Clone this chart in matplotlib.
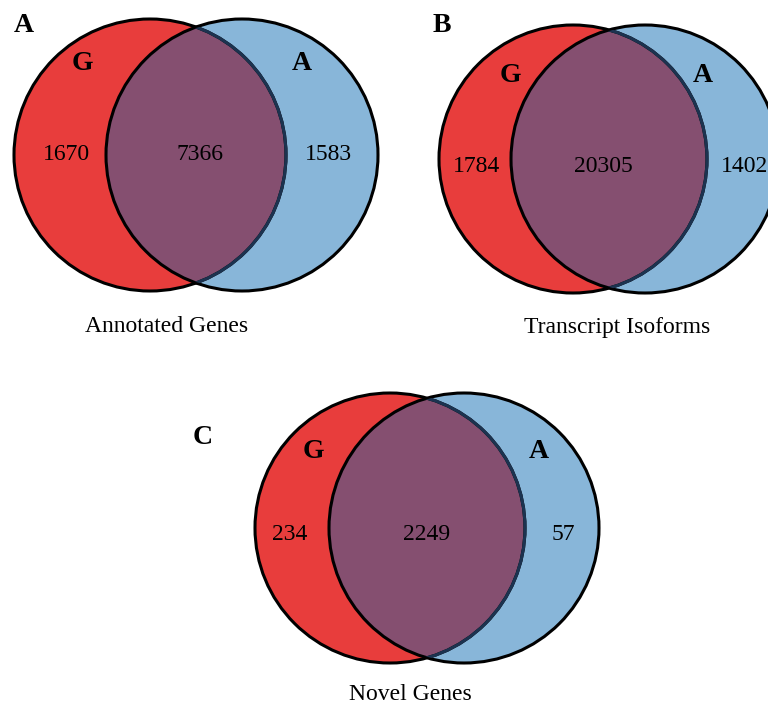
#!/usr/bin/env python
import matplotlib
matplotlib.use('Agg')
import matplotlib.pyplot as plt
from matplotlib.patches import Circle

plt.rcParams['font.family'] = ['Liberation Serif', 'DejaVu Serif']

# data
panels = ['A', 'B', 'C']
titles = ['Annotated Genes', 'Transcript Isoforms', 'Novel Genes']
set_names = ['G', 'A']
only_g = [1670, 1784, 234]
shared = [7366, 20305, 2249]
only_a = [1583, 1402, 57]

# layout (pixel coords): red centre, blue centre, radius
geom = [
    ((150, 155), (242, 155), 136),
    ((573, 159), (645, 159), 134),
    ((390, 528), (464, 528), 135),
]
count_x = [(66, 200, 328), (477, 603, 745), (290, 427, 563)]
count_y = [155, 167, 535]
name_pos = [((82, 64), (302, 64)), ((510, 75), (703, 75)), ((313, 452), (539, 452))]
label_pos = [(24, 25), (442, 25), (203, 437)]
title_pos = [(167, 327), (617, 327), (410, 695)]

RED = '#e83d3c'
BLUE = '#88b6d9'
MIX = '#854f70'

fig = plt.figure(figsize=(7.68, 7.04), dpi=100)
ax = fig.add_axes([0, 0, 1, 1])
ax.set_xlim(0, 768)
ax.set_ylim(704, 0)
ax.set_aspect('equal')
ax.axis('off')

for i in range(3):
    (rx, ry), (bx, by), r = geom[i]
    ax.add_patch(Circle((rx, ry), r, fc=RED, ec='none', zorder=1))
    blue = Circle((bx, by), r, fc=BLUE, ec='none', zorder=2)
    ax.add_patch(blue)
    mix = Circle((rx, ry), r, fc=MIX, ec='none', zorder=3)
    ax.add_patch(mix)
    mix.set_clip_path(blue)
    ax.add_patch(Circle((rx, ry), r, fc='none', ec='black', lw=2.2, zorder=4))
    ax.add_patch(Circle((bx, by), r, fc='none', ec='black', lw=2.2, zorder=4))
    navy = Circle((rx, ry), r, fc='none', ec='#1c3350', lw=2.2, zorder=5)
    ax.add_patch(navy)
    navy.set_clip_path(Circle((bx, by), r - 1, transform=ax.transData))

    # counts
    values = [only_g[i], shared[i], only_a[i]]
    for x, v in zip(count_x[i], values):
        ax.text(x, count_y[i], str(v), ha='center', va='center',
                fontsize=17, zorder=6)
    # set names
    for (x, y), name in zip(name_pos[i], set_names):
        ax.text(x, y, name, ha='center', va='center', fontsize=20,
                fontweight='bold', zorder=6)
    # panel label and title
    ax.text(*label_pos[i], panels[i], ha='center', va='center', fontsize=20,
            fontweight='bold')
    ax.text(*title_pos[i], titles[i], ha='center', va='center', fontsize=17)

fig.savefig('out.png', dpi=100)
